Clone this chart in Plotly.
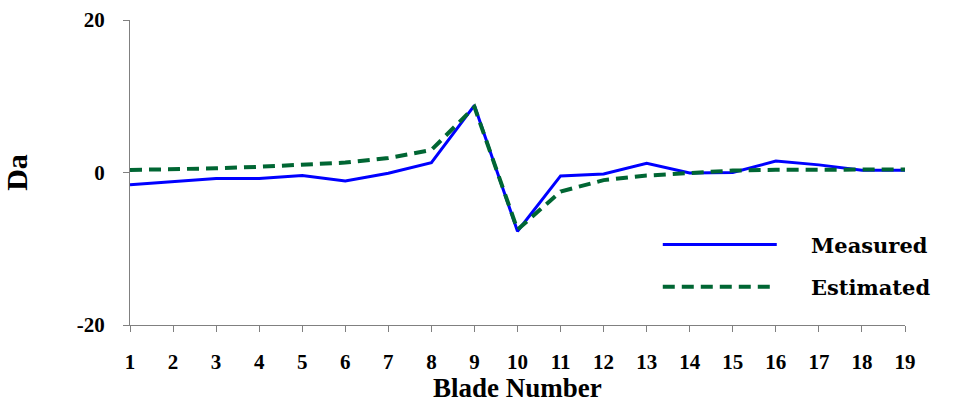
import plotly.graph_objects as go

blades = list(range(1, 20))
measured = [-1.6, -1.2, -0.8, -0.8, -0.4, -1.1, -0.1, 1.3, 8.8, -7.7,
            -0.45, -0.2, 1.2, -0.07, 0.0, 1.5, 1.0, 0.3, 0.3]
estimated = [0.33, 0.4, 0.55, 0.75, 1.0, 1.3, 1.9, 2.95, 8.6, -7.5,
             -2.5, -1.0, -0.4, -0.1, 0.25, 0.35, 0.35, 0.35, 0.4]
y_ticks = [-20, 0, 20]
y_tick_labels = ["-20", "0", "20"]

FONT = "Liberation Serif"
LEGEND_FONT = "DejaVu Serif"
NBSP = "\u00a0"

fig = go.Figure()
fig.add_trace(go.Scatter(
    x=blades, y=measured, mode="lines", name=NBSP * 4 + "Measured",
    legendgroup="m",
    line=dict(color="#0000FF", width=3)))
fig.add_trace(go.Scatter(
    x=blades, y=estimated, mode="lines", name=NBSP * 4 + "Estimated",
    legendgroup="e",
    line=dict(color="#006633", width=4, dash="12px,7px")))

fig.update_layout(
    width=957, height=404,
    margin=dict(l=130, r=52, t=20, b=79),
    plot_bgcolor="white", paper_bgcolor="white",
    font=dict(family=FONT, size=21, color="black", weight="bold"),
    showlegend=True,
    legend=dict(x=0.681, y=0.33, xanchor="left", yanchor="top",
                bgcolor="rgba(0,0,0,0)", itemwidth=114,
                tracegroupgap=12, traceorder="grouped",
                font=dict(family=LEGEND_FONT, size=21, weight="bold")),
    annotations=[dict(text="Blade Number", xref="paper", yref="paper",
                      x=0.5, y=-0.258, xanchor="center", yanchor="bottom",
                      showarrow=False, borderpad=0,
                      font=dict(family=FONT, size=27, weight="bold"))],
)
fig.update_xaxes(
    range=[1, 19], tickmode="array", tickvals=blades,
    showline=True, linecolor="#808080", linewidth=1,
    ticks="outside", ticklen=6, tickcolor="#808080",
    showgrid=False, zeroline=False, automargin=False,
    ticklabelstandoff=12,
    tickfont=dict(family=FONT, size=21, weight="bold"))
fig.update_yaxes(
    range=[-20, 20], tickmode="array", tickvals=y_ticks,
    ticktext=y_tick_labels,
    showline=True, linecolor="#808080", linewidth=1,
    ticks="outside", ticklen=6, tickcolor="#808080",
    showgrid=False, zeroline=False, automargin=False,
    ticklabelstandoff=14,
    tickfont=dict(family=FONT, size=21, weight="bold"),
    title=dict(text="Da", standoff=42,
               font=dict(family=FONT, size=30, weight="bold")))

fig.write_html("out.html")
